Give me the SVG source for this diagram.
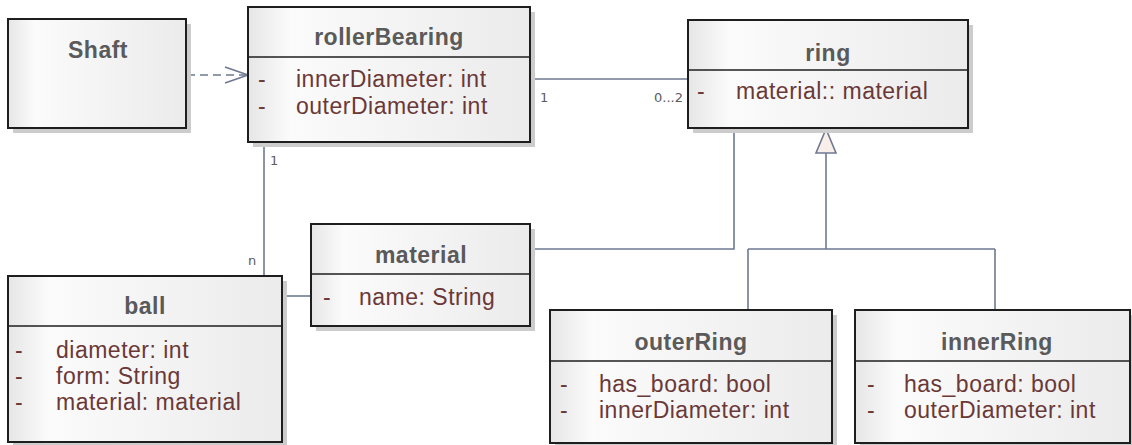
<svg xmlns="http://www.w3.org/2000/svg" width="1132" height="445" viewBox="0 0 1132 445">
<style>
.box{fill:url(#g);stroke:#1e1e1e;stroke-width:2}
.sh{fill:#cccccc}
.sep{stroke:#1e1e1e;stroke-width:1.5}
.t{font-family:"Liberation Sans",Arial,sans-serif;font-weight:bold;font-size:23px;fill:#5a5a5a;text-anchor:middle;letter-spacing:0.5px}
.a{font-family:"Liberation Sans",Arial,sans-serif;font-size:23px;fill:#6b3838;letter-spacing:0.5px}
.c{fill:none;stroke:#6e7891;stroke-width:1.6}
.m{font-family:"DejaVu Sans",sans-serif;font-size:13px;fill:#5c5c5c}
</style>
<defs>
<linearGradient id="g" x1="0" y1="0" x2="1" y2="0">
<stop offset="0" stop-color="#e6e6e6"/>
<stop offset="0.15" stop-color="#fbfbfb"/>
<stop offset="1" stop-color="#ebebeb"/>
</linearGradient>
</defs>
<rect width="1132" height="445" fill="#ffffff"/>

<g id="connectors">
<path class="c" d="M187,75 H246" stroke-dasharray="8,5"/>
<polyline class="c" points="225,67 248,75 225,83"/>
<path class="c" d="M530,79 H688"/>
<text class="m" x="540" y="102">1</text>
<text class="m" x="683" y="102" text-anchor="end">0...2</text>
<path class="c" d="M264,142 V276"/>
<text class="m" x="270" y="165">1</text>
<text class="m" x="248" y="265">n</text>
<path class="c" d="M282,296 H311"/>
<path class="c" d="M530,249 H734 V128"/>
<path class="c" d="M826,153 V249 M748,249 H995 M748,249 V310 M995,249 V310"/>
<polygon points="826,129 816,153 836,153" fill="#f8efea" stroke="#6e7891" stroke-width="1.6"/>
</g>

<g id="Shaft">
<rect class="sh" x="13" y="24" width="178" height="109"/>
<rect class="box" x="8" y="19" width="178" height="109"/>
<text class="t" x="98" y="58">Shaft</text>
</g>

<g id="rollerBearing">
<rect class="sh" x="253" y="12" width="282" height="135"/>
<rect class="box" x="248" y="7" width="282" height="135"/>
<line class="sep" x1="248" y1="57" x2="530" y2="57"/>
<text class="t" x="389" y="45">rollerBearing</text>
<text class="a" x="258" y="87">-</text><text class="a" x="296" y="87">innerDiameter: int</text>
<text class="a" x="258" y="114">-</text><text class="a" x="296" y="114">outerDiameter: int</text>
</g>

<g id="ring">
<rect class="sh" x="693" y="25" width="280" height="108"/>
<rect class="box" x="688" y="20" width="280" height="108"/>
<line class="sep" x1="688" y1="70" x2="968" y2="70"/>
<text class="t" x="828" y="61">ring</text>
<text class="a" x="697" y="99">-</text><text class="a" x="736" y="99">material:: material</text>
</g>

<g id="material">
<rect class="sh" x="316" y="229" width="219" height="102"/>
<rect class="box" x="311" y="224" width="219" height="102"/>
<line class="sep" x1="311" y1="274" x2="530" y2="274"/>
<text class="t" x="421" y="263">material</text>
<text class="a" x="323" y="305">-</text><text class="a" x="359" y="305">name: String</text>
</g>

<g id="ball">
<rect class="sh" x="13" y="281" width="274" height="166"/>
<rect class="box" x="8" y="276" width="274" height="166"/>
<line class="sep" x1="8" y1="326" x2="282" y2="326"/>
<text class="t" x="145" y="314">ball</text>
<text class="a" x="15" y="358">-</text><text class="a" x="56" y="358">diameter: int</text>
<text class="a" x="15" y="384">-</text><text class="a" x="56" y="384">form: String</text>
<text class="a" x="15" y="410">-</text><text class="a" x="56" y="410">material: material</text>
</g>

<g id="outerRing">
<rect class="sh" x="555" y="315" width="282" height="133"/>
<rect class="box" x="550" y="310" width="282" height="133"/>
<line class="sep" x1="550" y1="361" x2="832" y2="361"/>
<text class="t" x="691" y="350">outerRing</text>
<text class="a" x="560" y="392">-</text><text class="a" x="599" y="392">has_board: bool</text>
<text class="a" x="560" y="418">-</text><text class="a" x="599" y="418">innerDiameter: int</text>
</g>

<g id="innerRing">
<rect class="sh" x="860" y="315" width="275" height="133"/>
<rect class="box" x="855" y="310" width="275" height="133"/>
<line class="sep" x1="855" y1="361" x2="1130" y2="361"/>
<text class="t" x="997" y="350">innerRing</text>
<text class="a" x="867" y="392">-</text><text class="a" x="904" y="392">has_board: bool</text>
<text class="a" x="867" y="418">-</text><text class="a" x="904" y="418">outerDiameter: int</text>
</g>
</svg>
